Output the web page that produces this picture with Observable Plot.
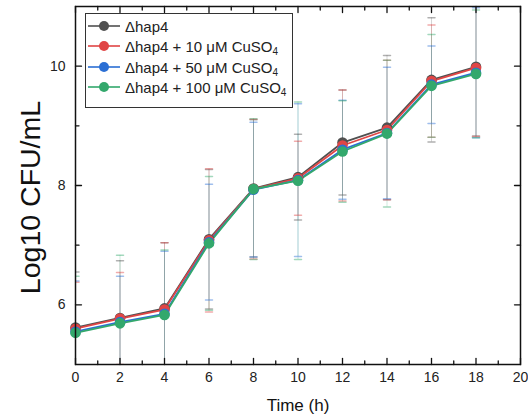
<!DOCTYPE html>
<html><head><meta charset="utf-8">
<script src="https://cdn.jsdelivr.net/npm/d3@7"></script>
<script src="https://cdn.jsdelivr.net/npm/@observablehq/plot@0.6"></script>
<style>
body{margin:0;background:#fff;font-family:Arial,"Liberation Sans",sans-serif;}
#wrap{position:relative;width:528px;height:419px;}
#legend{position:absolute;left:85px;top:13px;width:208px;height:95px;border:1px solid #333;background:#fff;box-sizing:border-box;}
.row{position:absolute;left:1px;height:20px;display:flex;align-items:center;font-size:15px;color:#222;white-space:nowrap;}
.row svg{margin-right:4px}
.row sub{font-size:10px;position:relative;top:3px;vertical-align:baseline}
</style></head><body><div id="wrap"><div id="chart"></div><div id="legend"></div></div>
<script>
const times = [0, 2, 4, 6, 8, 10, 12, 14, 16, 18];
const hap4     = [5.62, 5.78, 5.94, 7.10, 7.95, 8.14, 8.72, 8.97, 9.77, 9.99];
const hap4Err  = [0.93, 0.96, 1.10, 1.17, 1.15, 0.72, 0.88, 1.21, 1.04, 1.16];
const cu10     = [5.60, 5.77, 5.92, 7.08, 7.94, 8.12, 8.67, 8.93, 9.75, 9.97];
const cu10Err  = [0.78, 0.77, 1.12, 1.20, 1.17, 0.62, 0.93, 1.17, 0.94, 1.15];
const cu50     = [5.55, 5.71, 5.85, 7.05, 7.93, 8.09, 8.60, 8.88, 9.69, 9.89];
const cu50Err  = [0.85, 0.77, 1.05, 0.97, 1.13, 1.28, 0.83, 1.10, 0.65, 1.09];
const cu100    = [5.53, 5.69, 5.83, 7.03, 7.94, 8.08, 8.57, 8.87, 9.67, 9.87];
const cu100Err = [0.95, 1.14, 1.09, 1.12, 1.18, 1.32, 0.85, 1.23, 0.86, 1.07];

const seriesNames = ["Δhap4", "Δhap4 + 10 μM CuSO4", "Δhap4 + 50 μM CuSO4", "Δhap4 + 100 μM CuSO4"];
const seriesColors = ["#505050", "#e04545", "#2b6fd4", "#33a86c"];
const xTicks = [0, 2, 4, 6, 8, 10, 12, 14, 16, 18, 20];
const xMinor = [1, 3, 5, 7, 9, 11, 13, 15, 17, 19];
const yTicks = [6, 8, 10];
const yMinor = [7, 9];
const xLabel = "Time (h)";
const yLabel = "Log10 CFU/mL";

const values = [hap4, cu10, cu50, cu100];
const errs = [hap4Err, cu10Err, cu50Err, cu100Err];
const rows = values.flatMap((vals, k) => times.map((t, i) => ({series: seriesNames[k], t, v: vals[i], e: errs[k][i]})));

const line = {draw(c, l) { c.moveTo(0, 0); c.lineTo(0, -l); }};
const axisTicks = (data, opts, len) => Plot.vector(data, {...opts, length: len, anchor: "start", shape: line, stroke: "#111", strokeWidth: 1.3});

const chart = Plot.plot({
  width: 528, height: 419,
  marginLeft: 75, marginRight: 8, marginTop: 6, marginBottom: 55,
  x: {domain: [0, 20]},
  y: {domain: [5, 11]},
  color: {domain: seriesNames, range: seriesColors},
  style: {fontFamily: "Arial, 'Liberation Sans', sans-serif", fontSize: "14px", color: "#222", background: "white"},
  marks: [
    Plot.ruleX(rows, {x: "t", y1: d => d.v - d.e, y2: d => d.v + d.e, stroke: "series", strokeOpacity: 0.24, clip: true}),
    Plot.vector(rows, {x: "t", y: d => d.v + d.e, rotate: 90, length: 7, anchor: "middle", shape: line, stroke: "series", strokeOpacity: 0.45, clip: true}),
    Plot.vector(rows, {x: "t", y: d => d.v - d.e, rotate: 90, length: 7, anchor: "middle", shape: line, stroke: "series", strokeOpacity: 0.45, clip: true}),
    Plot.line(rows, {x: "t", y: "v", z: "series", stroke: "series", strokeWidth: 1.8}),
    Plot.dot(rows, {x: "t", y: "v", fill: "series", r: 5.3}),
    Plot.frame({stroke: "#111", strokeWidth: 1.5}),
    axisTicks(xTicks, {x: d => d, y: 5, rotate: 0}, 6),
    axisTicks(xMinor, {x: d => d, y: 5, rotate: 0}, 3.5),
    axisTicks(xTicks, {x: d => d, y: 11, rotate: 180}, 6),
    axisTicks(xMinor, {x: d => d, y: 11, rotate: 180}, 3.5),
    axisTicks(yTicks, {x: 0, y: d => d, rotate: 90}, 6),
    axisTicks(yMinor, {x: 0, y: d => d, rotate: 90}, 3.5),
    axisTicks(yTicks, {x: 20, y: d => d, rotate: -90}, 6),
    axisTicks(yMinor, {x: 20, y: d => d, rotate: -90}, 3.5),
    Plot.axisX(xTicks, {tickSize: 0, tickPadding: 8, fontSize: 14, label: null, tickFormat: d => String(d)}),
    Plot.axisY(yTicks, {tickSize: 0, tickPadding: 10, fontSize: 14, label: null, tickFormat: d => String(d)}),
    Plot.text([xLabel], {frameAnchor: "bottom", textAnchor: "middle", lineAnchor: "middle", dy: 41, fontSize: 17, fill: "#111"}),
    Plot.text([yLabel], {frameAnchor: "left", textAnchor: "middle", lineAnchor: "middle", dx: -45, dy: 12, rotate: -90, fontSize: 28.5, fill: "#111"})
  ]
});
document.getElementById("chart").append(chart);

const legend = document.getElementById("legend");
const rowTops = [2, 22, 43, 63];
seriesNames.forEach((name, k) => {
  const div = document.createElement("div");
  div.className = "row";
  div.style.top = rowTops[k] + "px";
  const label = name.endsWith("CuSO4") ? name.slice(0, -1) + "<sub>4</sub>" : name;
  div.innerHTML = `<svg width="34" height="20"><line x1="1" x2="33" y1="10" y2="10" stroke="${seriesColors[k]}" stroke-width="1.6"/><circle cx="17" cy="10" r="5" fill="${seriesColors[k]}"/></svg><span>${label}</span>`;
  legend.append(div);
});
</script>
</body></html>
